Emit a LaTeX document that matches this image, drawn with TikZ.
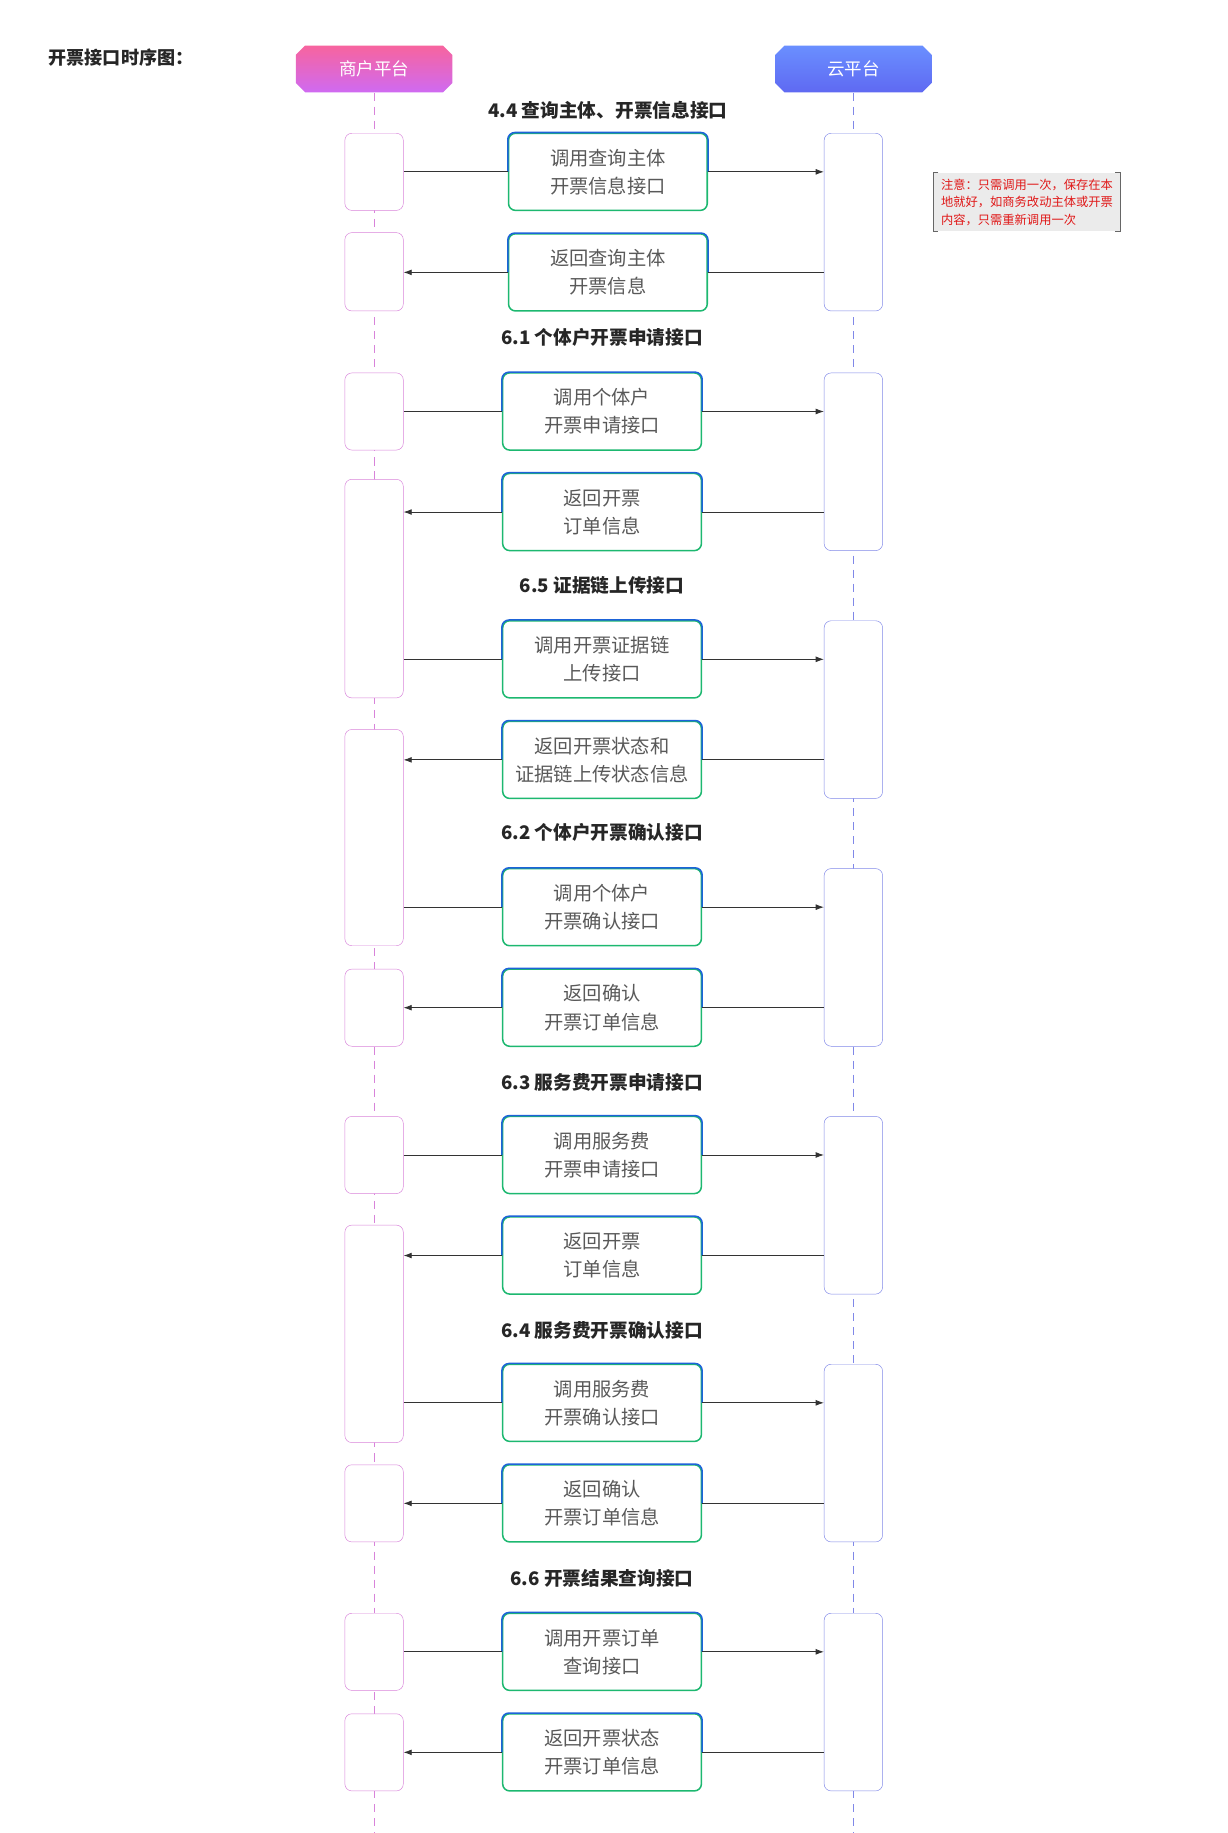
\documentclass[tikz,border=0pt]{standalone}
\usepackage{fontspec}
\setmainfont{Noto Sans CJK SC}
\usetikzlibrary{shapes.misc, arrows.meta, positioning}
\definecolor{merchtop}{HTML}{F7649E}
\definecolor{merchbot}{HTML}{CF6AF2}
\definecolor{cloudtop}{HTML}{6A8FFF}
\definecolor{cloudbot}{HTML}{5F69F2}
\definecolor{merchline}{HTML}{D883DA}
\definecolor{cloudline}{HTML}{8088E8}
\definecolor{callblue}{HTML}{1D63D8}
\definecolor{callgreen}{HTML}{1DB870}
\definecolor{notered}{HTML}{E01818}

\begin{document}
\begin{tikzpicture}[
    x=1pt, y=-1pt,
    head/.style={chamfered rectangle, chamfered rectangle xsep=2cm, chamfered rectangle angle=45,
                 chamfered rectangle sep=4pt, minimum width=134pt, minimum height=40pt,
                 text=white, font=\fontsize{15}{18}\selectfont},
    act/.style={rectangle, rounded corners=6pt, fill=white, minimum width=50pt, inner sep=0pt},
    msgbox/.style={rectangle, rounded corners=6pt, fill=white, draw=callgreen, line width=1.3pt,
                   minimum width=170pt, minimum height=66pt, align=center,
                   font=\fontsize{16.5}{24}\selectfont, text=black!65},
    sect/.style={font=\bfseries\fontsize{16}{19}\selectfont, text=black!85},
    msg/.style={black!80, line width=0.7pt},
]
\useasboundingbox (0,0) rectangle (1050,1568);

% Title
\node[anchor=west, font=\bfseries\fontsize{15.5}{18}\selectfont, text=black!85] (title) at (38,49) {开票接口时序图：};

% Participants
\node[head, top color=merchtop, bottom color=merchbot] (merch) at (320,59) {商户平台};
\node[head, top color=cloudtop, bottom color=cloudbot] (cloud) at (730,59) {云平台};

% Lifelines
\coordinate (merchend) at (320,1568);
\coordinate (cloudend) at (730,1568);
\draw[merchline, dash pattern=on 7pt off 5pt, line width=0.8pt] (merch.south) -- (merchend);
\draw[cloudline, dash pattern=on 7pt off 5pt, line width=0.8pt] (cloud.south) -- (cloudend);

% Activations
\foreach \n/\ya/\yb in {1/114/180, 2/199/266, 3/319/385, 4/410/597, 5/624/809, 6/829/895,
                        7/955/1021, 8/1048/1234, 9/1253/1319, 10/1380/1446, 11/1466/1532}
{
  \pgfmathsetmacro{\hh}{\yb-\ya}
  \pgfmathsetmacro{\mm}{(\ya+\yb)/2}
  \node[act, draw=merchline, minimum height=\hh pt] (L\n) at (320,\mm) {};
}
\foreach \n/\ya/\yb in {1/114/266, 2/319/471, 3/531/683, 4/743/895,
                        5/955/1107, 6/1167/1319, 7/1380/1532}
{
  \pgfmathsetmacro{\hh}{\yb-\ya}
  \pgfmathsetmacro{\mm}{(\ya+\yb)/2}
  \node[act, draw=cloudline, minimum height=\hh pt] (R\n) at (730,\mm) {};
}

% Messages
\foreach \s/\ty/\cy/\mx/\la/\lb/\txt/\calltxt/\rettxt in {
    1/94/147/520/1/2/{4.4 查询主体、开票信息接口}/{调用查询主体\\开票信息接口}/{返回查询主体\\开票信息},
    2/289/352/515/3/4/{6.1 个体户开票申请接口}/{调用个体户\\开票申请接口}/{返回开票\\订单信息},
    3/501/564/515/4/5/{6.5 证据链上传接口}/{调用开票证据链\\上传接口}/{返回开票状态和\\证据链上传状态信息},
    4/712/776/515/5/6/{6.2 个体户开票确认接口}/{调用个体户\\开票确认接口}/{返回确认\\开票订单信息},
    5/926/988/515/7/8/{6.3 服务费开票申请接口}/{调用服务费\\开票申请接口}/{返回开票\\订单信息},
    6/1138/1200/515/8/9/{6.4 服务费开票确认接口}/{调用服务费\\开票确认接口}/{返回确认\\开票订单信息},
    7/1350/1413/515/10/11/{6.6 开票结果查询接口}/{调用开票订单\\查询接口}/{返回开票状态\\开票订单信息}}
{
  \node[sect] (t\s) at (\mx,\ty) {\txt};
  \node[msgbox] (c\s) at (\mx,\cy) {\calltxt};
  \node[msgbox] (r\s) at (\mx,\cy+86) {\rettxt};
  \draw[callblue, line width=1.3pt, rounded corners=6pt] (c\s.west) |- (c\s.north) -| (c\s.east);
  \draw[callblue, line width=1.3pt, rounded corners=6pt] (r\s.west) |- (r\s.north) -| (r\s.east);
  \draw[msg] (L\la.east |- c\s.west) -- (c\s.west);
  \draw[msg, -{Latex[length=7pt, width=5pt]}] (c\s.east) -- (R\s.west |- c\s.east);
  \draw[msg] (R\s.west |- r\s.east) -- (r\s.east);
  \draw[msg, -{Latex[length=7pt, width=5pt]}] (r\s.west) -- (L\lb.east |- r\s.west);
}

% Note
\node[fill=black!8, minimum width=159pt, minimum height=50pt, inner sep=2pt, align=left,
      text=notered, font=\fontsize{10.5}{15}\selectfont] (note) at (878.5,173)
    {注意：只需调用一次，保存在本\\地就好，如商务改动主体或开票\\内容，只需重新调用一次};
\draw[black!60, line width=0.8pt] ([xshift=4pt]note.north west) -| (note.south west) -- ++(4pt,0);
\draw[black!60, line width=0.8pt] ([xshift=-4pt]note.north east) -| (note.south east) -- ++(-4pt,0);

\end{tikzpicture}
\end{document}
